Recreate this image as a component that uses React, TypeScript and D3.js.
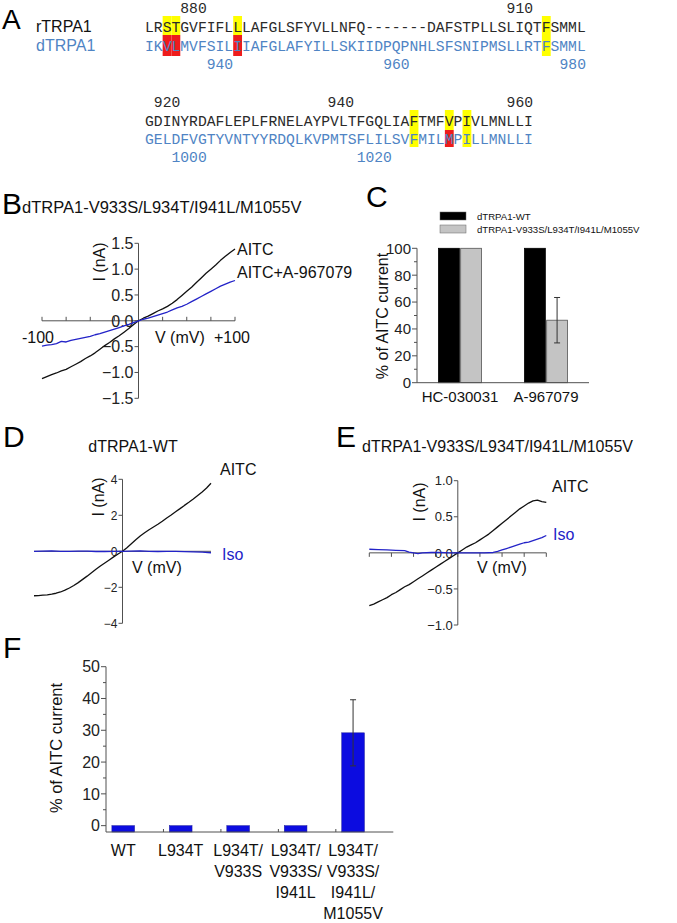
import React from 'react';
import * as d3 from 'd3';

const W = 677;
const H = 923;
const SANS = "Arial, 'Liberation Sans', Helvetica, sans-serif";
const MONO = "'Courier New', 'Liberation Mono', monospace";
const BLUE_SEQ = '#4f84c4';
const TRACE_BLUE = '#2323c8';
const BAR_BLUE = '#0c0ce0';
const AXIS = '#505050';

// ---------------- Panel A data ----------------
const seqNames = ['rTRPA1', 'dTRPA1'];
const block1Rows = [
  'LRSTGVFIFLLLAFGLSFYVLLNFQ-------DAFSTPLLSLIQTFSMML',
  'IKVLMVFSILIIAFGLAFYILLSKIIDPQPNHLSFSNIPMSLLRTFSMML',
];
const block2Rows = [
  'GDINYRDAFLEPLFRNELAYPVLTFGQLIAFTMFVPIVLMNLLI',
  'GELDFVGTYVNTYYRDQLKVPMTSFLILSVFMILMPILLMNLLI',
];
// highlighted residues: [row, column, colour]
const block1Marks: [number, number, string][] = [
  [0, 2, 'y'], [0, 3, 'y'], [0, 10, 'y'], [0, 45, 'y'],
  [1, 2, 'r'], [1, 3, 'r'], [1, 10, 'r'], [1, 45, 'y'],
];
const block2Marks: [number, number, string][] = [
  [0, 30, 'y'], [0, 34, 'y'], [0, 36, 'y'],
  [1, 30, 'y'], [1, 34, 'r'], [1, 36, 'y'],
];
// residue numbers: [label, column centre, row(0 top / 1 bottom)]
const block1Numbers: [string, number, number][] = [
  ['880', 5.5, 0], ['910', 42.5, 0], ['940', 8.5, 1], ['960', 28.5, 1], ['980', 48.5, 1],
];
const block2Numbers: [string, number, number][] = [
  ['920', 2.5, 0], ['940', 22.2, 0], ['960', 42.5, 0], ['1000', 5.0, 1], ['1020', 26.0, 1],
];

// ---------------- I-V traces (mV, nA) ----------------
const ivVoltage = [
  -100, -95, -90, -85, -80, -75, -70, -65, -60, -55, -50, -45, -40, -35, -30, -25, -20, -15, -10, -5,
  0, 5, 10, 15, 20, 25, 30, 35, 40, 45, 50, 55, 60, 65, 70, 75, 80, 85, 90, 95, 100,
];
const bAITC = [
  -1.12, -1.08, -1.04, -1.01, -0.97, -0.94, -0.89, -0.84, -0.79, -0.73, -0.68, -0.62, -0.55, -0.48, -0.42, -0.35, -0.29, -0.22, -0.15, -0.07,
  0.0, 0.05, 0.09, 0.14, 0.19, 0.23, 0.28, 0.34, 0.41, 0.49, 0.57, 0.65, 0.74, 0.83, 0.92, 1.0, 1.08, 1.17, 1.25, 1.32, 1.39,
];
const bAITCBlocker = [
  -0.49, -0.47, -0.46, -0.44, -0.4, -0.41, -0.38, -0.36, -0.34, -0.32, -0.3, -0.27, -0.25, -0.22, -0.19, -0.16, -0.13, -0.1, -0.07, -0.035,
  0.0, 0.03, 0.05, 0.08, 0.11, 0.14, 0.17, 0.21, 0.25, 0.28, 0.32, 0.37, 0.42, 0.47, 0.52, 0.57, 0.62, 0.67, 0.71, 0.75, 0.78,
];
const dAITC = [
  -2.47, -2.46, -2.44, -2.42, -2.38, -2.33, -2.26, -2.16, -2.04, -1.9, -1.74, -1.56, -1.38, -1.19, -1.0, -0.82, -0.65, -0.48, -0.31, -0.15,
  0.0, 0.2, 0.42, 0.64, 0.85, 1.03, 1.2, 1.35, 1.5, 1.67, 1.85, 2.02, 2.2, 2.37, 2.55, 2.72, 2.9, 3.1, 3.3, 3.52, 3.78,
];
const dIsoVoltage = [-100, -90, -80, -70, -60, -50, -40, -30, -20, -10, 0, 10, 20, 30, 40, 50, 60, 70, 80, 90, 100];
const dIso = [0.0, 0.01, 0.02, 0.0, 0.0, 0.01, 0.01, -0.01, -0.01, 0.0, 0.0, 0.01, 0.02, 0.0, -0.01, 0.0, 0.0, -0.02, -0.03, -0.05, -0.08];
const eAITC = [
  -0.73, -0.71, -0.68, -0.65, -0.62, -0.58, -0.55, -0.51, -0.47, -0.44, -0.4, -0.36, -0.32, -0.28, -0.24, -0.2, -0.16, -0.12, -0.08, -0.04,
  0.0, 0.04, 0.08, 0.11, 0.14, 0.18, 0.22, 0.26, 0.31, 0.36, 0.41, 0.46, 0.51, 0.56, 0.61, 0.65, 0.69, 0.72, 0.73, 0.71, 0.7,
];
const eIsoVoltage = [-100, -90, -80, -70, -60, -55, -50, -45, -40, -30, -20, -10, 0, 10, 20, 30, 40, 45, 50, 55, 60, 65, 70, 75, 80, 85, 90, 95, 100];
const eIso = [0.05, 0.045, 0.04, 0.035, 0.03, 0.01, 0.0, -0.01, 0.0, 0.005, 0.005, 0.0, 0.0, 0.0, 0.0, 0.0, 0.005, 0.02, 0.04, 0.06, 0.08, 0.1, 0.12, 0.14, 0.15, 0.17, 0.19, 0.21, 0.24];

// ---------------- Panel C data ----------------
const cGroups = ['HC-030031', 'A-967079'];
const cSeries = ['dTRPA1-WT', 'dTRPA1-V933S/L934T/I941L/M1055V'];
const cSeriesColors = ['#000000', '#c4c4c4'];
const cWT = [100, 100];
const cMutant = [100, 46.5];
const cMutantErr = [0, 16.9];
const cTicks = [0, 20, 40, 60, 80, 100];

// ---------------- Panel F data ----------------
const fCategories = [
  ['WT'],
  ['L934T'],
  ['L934T/', 'V933S'],
  ['L934T/', 'V933S/', 'I941L'],
  ['L934T/', 'V933S/', 'I941L/', 'M1055V'],
];
const fValues = [0, 0, 0, 0, 29.2];
const fErrors = [0, 0, 0, 0, 10.4];
const fTicks = [0, 10, 20, 30, 40, 50];

const CH = 8.82; // mono char advance at 14.7px
const SEQ_X = 145;

function SeqBlock({ rows, marks, numbers, base1, base2, box1, box2, numTop, numBottom }: any) {
  const bases = [base1, base2];
  const boxes = [box1, box2];
  return (
    <g>
      {marks.map(([r, c, col]: [number, number, string], i: number) => (
        <rect key={i} x={SEQ_X + c * CH} y={boxes[r][0]} width={CH} height={boxes[r][1] - boxes[r][0]}
          fill={col === 'y' ? '#ffff00' : '#ee1c1c'} />
      ))}
      {rows.map((s: string, r: number) => (
        <text key={r} x={SEQ_X} y={bases[r]} fontFamily={MONO} fontSize={14.7}
          fill={r === 0 ? '#2a2a2a' : BLUE_SEQ}>{s}</text>
      ))}
      {numbers.map(([lab, col, r]: [string, number, number], i: number) => (
        <text key={i} x={SEQ_X + col * CH} y={r === 0 ? numTop : numBottom} textAnchor="middle"
          fontFamily={MONO} fontSize={14.7} fill={r === 0 ? '#2a2a2a' : BLUE_SEQ}>{lab}</text>
      ))}
    </g>
  );
}

function IVPanel({ x, y, yTicks, yFmt, tickFont, xTickStep, xTickDir, traces, labels }: any) {
  const ax = x(0);
  const ay = y(0);
  const [y0, y1] = y.domain();
  const line = (vs: number[], is: number[]) =>
    d3.line<number>().x((_, i) => x(vs[i])).y((d) => y(d))(is) || '';
  const xt = xTickStep ? d3.range(-100, 100.001, xTickStep) : [];
  const td = xTickDir || -1;
  return (
    <g>
      <line x1={x(-100)} x2={x(100)} y1={ay} y2={ay} stroke={AXIS} strokeWidth={1} />
      <line x1={ax} x2={ax} y1={y(y0)} y2={y(y1)} stroke={AXIS} strokeWidth={1} />
      {xt.map((v: number) => (
        <line key={v} x1={x(v)} x2={x(v)} y1={ay} y2={ay + td * 4} stroke={AXIS} />
      ))}
      {yTicks.map((t: number) => (
        <g key={t}>
          <line x1={ax - 4} x2={ax} y1={y(t)} y2={y(t)} stroke={AXIS} />
          <text x={ax - 5} y={y(t)} dy="0.36em" textAnchor="end" fontFamily={SANS} fontSize={tickFont} fill="#222">
            {yFmt(t)}
          </text>
        </g>
      ))}
      {traces.map((tr: any, i: number) => (
        <path key={i} d={line(tr.v, tr.i)} fill="none" stroke={tr.color} strokeWidth={1.3} strokeLinejoin="round" />
      ))}
      {labels.map((l: any, i: number) => (
        <text key={i} x={l.x} y={l.y} textAnchor={l.anchor || 'start'} fontFamily={SANS} fontSize={l.size || 16}
          fill={l.color || '#111'} transform={l.rotate ? `rotate(-90 ${l.x} ${l.y})` : undefined}>{l.text}</text>
      ))}
    </g>
  );
}

export default function App() {
  // ---- Panel B scales
  const bx = d3.scaleLinear().domain([-100, 100]).range([42, 235]);
  const by = d3.scaleLinear().domain([-1.5, 1.5]).range([398.3, 243.3]);
  // ---- Panel D
  const dx = d3.scaleLinear().domain([-100, 100]).range([34, 211]);
  const dy = d3.scaleLinear().domain([-4, 4]).range([623.3, 479.3]);
  // ---- Panel E
  const ex = d3.scaleLinear().domain([-100, 100]).range([369.3, 546.3]);
  const ey = d3.scaleLinear().domain([-1, 1]).range([625, 480.7]);

  // ---- Panel C
  const cx = d3.scaleBand<string>().domain(cGroups).range([417, 589]);
  const cSub = d3.scaleBand<string>().domain(cSeries).range([-21.5, 21.5]).paddingInner(0.06);
  const cy = d3.scaleLinear().domain([0, 100]).range([382.7, 248.3]);
  const cMinor = d3.range(10, 100, 20);

  // ---- Panel F
  const fx = d3.scaleLinear().domain([0.7, 5.7]).range([106, 393.3]);
  const fy = d3.scaleLinear().domain([-2, 50]).range([832, 666.7]);
  const fBarW = 22.7;
  const fMinor = d3.range(5, 50, 10);
  const fXTicks = [1.7, 2.7, 3.7, 4.7];

  const fmt1 = d3.format('.1f');
  const fmt0 = d3.format('d');

  return (
    <svg width={W} height={H} viewBox={`0 0 ${W} ${H}`}
      style={{ position: 'absolute', left: 0, top: 0, background: '#fff' }}>
      <rect x={0} y={0} width={W} height={H} fill="#fff" />

      {/* ================= Panel A ================= */}
      <text x={2} y={29} fontFamily={SANS} fontSize={28} fill="#000">A</text>
      <text x={36} y={32} fontFamily={SANS} fontSize={16} fill="#111">{seqNames[0]}</text>
      <text x={36} y={51} fontFamily={SANS} fontSize={16} fill={BLUE_SEQ}>{seqNames[1]}</text>
      <SeqBlock rows={block1Rows} marks={block1Marks} numbers={block1Numbers}
        base1={32} base2={51} box1={[16, 35]} box2={[35, 56]} numTop={13} numBottom={69} />
      <SeqBlock rows={block2Rows} marks={block2Marks} numbers={block2Numbers}
        base1={126} base2={144} box1={[110, 130]} box2={[130, 147]} numTop={107} numBottom={162} />

      {/* ================= Panel B ================= */}
      <text x={2} y={214} fontFamily={SANS} fontSize={30} fill="#000">B</text>
      <text x={22} y={213} fontFamily={SANS} fontSize={16.5} fill="#111">dTRPA1-V933S/L934T/I941L/M1055V</text>
      <IVPanel x={bx} y={by} yTicks={[-1.5, -1, -0.5, 0, 0.5, 1, 1.5]} yFmt={fmt1} tickFont={16} xTickStep={25}
        traces={[
          { v: ivVoltage, i: bAITC, color: '#111' },
          { v: ivVoltage, i: bAITCBlocker, color: TRACE_BLUE },
        ]}
        labels={[
          { x: bx(-100) - 4, y: 343, text: '-100', anchor: 'middle' },
          { x: bx(100) - 3, y: 343, text: '+100', anchor: 'middle' },
          { x: 155, y: 343, text: 'V (mV)' },
          { x: 105, y: 262, text: 'I (nA)', anchor: 'middle', rotate: true },
          { x: 237, y: 255, text: 'AITC' },
          { x: 237, y: 278, text: 'AITC+A-967079' },
        ]} />

      {/* ================= Panel C ================= */}
      <text x={366} y={207} fontFamily={SANS} fontSize={30} fill="#000">C</text>
      {cSeries.map((s, i) => (
        <g key={s}>
          <rect x={440} y={212 + i * 13} width={26} height={8} fill={cSeriesColors[i]} stroke="#666" strokeWidth={0.5} />
          <text x={477} y={220 + i * 13} fontFamily={SANS} fontSize={9.6} fill="#111">{s}</text>
        </g>
      ))}
      {cGroups.map((g, gi) => {
        const c = (cx(g) as number) + cx.bandwidth() / 2;
        const vals = [cWT[gi], cMutant[gi]];
        return (
          <g key={g}>
            {cSeries.map((s, si) => (
              <rect key={s} x={c + (cSub(s) as number)} y={cy(vals[si])} width={cSub.bandwidth()}
                height={cy(0) - cy(vals[si])} fill={cSeriesColors[si]} stroke={si === 0 ? '#000' : '#555'} strokeWidth={0.8} />
            ))}
            {cMutantErr[gi] > 0 && (() => {
              const mx = c + (cSub(cSeries[1]) as number) + cSub.bandwidth() / 2;
              const top = cy(cMutant[gi] + cMutantErr[gi]);
              const bot = cy(cMutant[gi] - cMutantErr[gi]);
              return (
                <g stroke="#333" strokeWidth={1}>
                  <line x1={mx} x2={mx} y1={top} y2={bot} />
                  <line x1={mx - 3} x2={mx + 3} y1={top} y2={top} />
                  <line x1={mx - 3} x2={mx + 3} y1={bot} y2={bot} />
                </g>
              );
            })()}
            <text x={c} y={402} textAnchor="middle" fontFamily={SANS} fontSize={15} fill="#111">{g}</text>
          </g>
        );
      })}
      <line x1={417} x2={589} y1={cy(0)} y2={cy(0)} stroke={AXIS} />
      <line x1={417} x2={417} y1={cy(0)} y2={cy(100)} stroke={AXIS} />
      {cTicks.map((t) => (
        <g key={t}>
          <line x1={412} x2={417} y1={cy(t)} y2={cy(t)} stroke={AXIS} />
          <text x={411} y={cy(t)} dy="0.36em" textAnchor="end" fontFamily={SANS} fontSize={15} fill="#222">{fmt0(t)}</text>
        </g>
      ))}
      {cMinor.map((t) => (
        <line key={t} x1={414} x2={417} y1={cy(t)} y2={cy(t)} stroke={AXIS} />
      ))}
      <text x={388} y={316} textAnchor="middle" fontFamily={SANS} fontSize={16} fill="#111"
        transform="rotate(-90 388 316)">% of AITC current</text>

      {/* ================= Panel D ================= */}
      <text x={3} y={447} fontFamily={SANS} fontSize={30} fill="#000">D</text>
      <text x={133} y={452} textAnchor="middle" fontFamily={SANS} fontSize={16} fill="#111">dTRPA1-WT</text>
      <IVPanel x={dx} y={dy} yTicks={[-4, -2, 0, 2, 4]} yFmt={fmt0} tickFont={12}
        traces={[
          { v: ivVoltage, i: dAITC, color: '#111' },
          { v: dIsoVoltage, i: dIso, color: TRACE_BLUE },
        ]}
        labels={[
          { x: 132, y: 573, text: 'V (mV)' },
          { x: 104, y: 497, text: 'I (nA)', anchor: 'middle', rotate: true },
          { x: 220, y: 475, text: 'AITC' },
          { x: 222, y: 560, text: 'Iso', color: TRACE_BLUE },
        ]} />

      {/* ================= Panel E ================= */}
      <text x={336} y={447} fontFamily={SANS} fontSize={30} fill="#000">E</text>
      <text x={362} y={452} fontFamily={SANS} fontSize={16} fill="#111">dTRPA1-V933S/L934T/I941L/M1055V</text>
      <IVPanel x={ex} y={ey} yTicks={[-1, -0.5, 0, 0.5, 1]} yFmt={fmt1} tickFont={13} xTickStep={25} xTickDir={1}
        traces={[
          { v: ivVoltage, i: eAITC, color: '#111' },
          { v: eIsoVoltage, i: eIso, color: TRACE_BLUE },
        ]}
        labels={[
          { x: 477, y: 573, text: 'V (mV)' },
          { x: 425, y: 502, text: 'I (nA)', anchor: 'middle', rotate: true },
          { x: 552, y: 492, text: 'AITC' },
          { x: 553, y: 540, text: 'Iso', color: TRACE_BLUE },
        ]} />

      {/* ================= Panel F ================= */}
      <text x={3} y={658} fontFamily={SANS} fontSize={30} fill="#000">F</text>
      {fValues.map((v, i) => (
        <rect key={i} x={fx(i + 1) - fBarW / 2} y={fy(v)} width={fBarW} height={fy(-2) - fy(v)}
          fill={BAR_BLUE} stroke="#1a1a9a" strokeWidth={0.5} />
      ))}
      {fErrors.map((e, i) => e > 0 && (
        <g key={i} stroke="#333" strokeWidth={1}>
          <line x1={fx(i + 1)} x2={fx(i + 1)} y1={fy(fValues[i] + e)} y2={fy(fValues[i] - e)} />
          <line x1={fx(i + 1) - 3} x2={fx(i + 1) + 3} y1={fy(fValues[i] + e)} y2={fy(fValues[i] + e)} />
          <line x1={fx(i + 1) - 3} x2={fx(i + 1) + 3} y1={fy(fValues[i] - e)} y2={fy(fValues[i] - e)} />
        </g>
      ))}
      <line x1={fx(0.7)} x2={fx(5.7)} y1={fy(-2)} y2={fy(-2)} stroke={AXIS} />
      <line x1={fx(0.7)} x2={fx(0.7)} y1={fy(-2)} y2={fy(50)} stroke={AXIS} />
      {fXTicks.map((t) => (
        <line key={t} x1={fx(t)} x2={fx(t)} y1={fy(-2)} y2={fy(-2) - 3} stroke={AXIS} />
      ))}
      {fTicks.map((t) => (
        <g key={t}>
          <line x1={fx(0.7) - 5} x2={fx(0.7)} y1={fy(t)} y2={fy(t)} stroke={AXIS} />
          <text x={fx(0.7) - 6} y={fy(t)} dy="0.36em" textAnchor="end" fontFamily={SANS} fontSize={16} fill="#222">{fmt0(t)}</text>
        </g>
      ))}
      {fMinor.map((t) => (
        <line key={t} x1={fx(0.7) - 3} x2={fx(0.7)} y1={fy(t)} y2={fy(t)} stroke={AXIS} />
      ))}
      {fCategories.map((lines, i) => (
        <text key={i} textAnchor="middle" fontFamily={SANS} fontSize={16} fill="#111">
          {lines.map((ln, k) => (
            <tspan key={k} x={fx(i + 1)} y={856 + k * 21}>{ln}</tspan>
          ))}
        </text>
      ))}
      <text x={62} y={748} textAnchor="middle" fontFamily={SANS} fontSize={16.5} fill="#111"
        transform="rotate(-90 62 748)">% of AITC current</text>
    </svg>
  );
}
